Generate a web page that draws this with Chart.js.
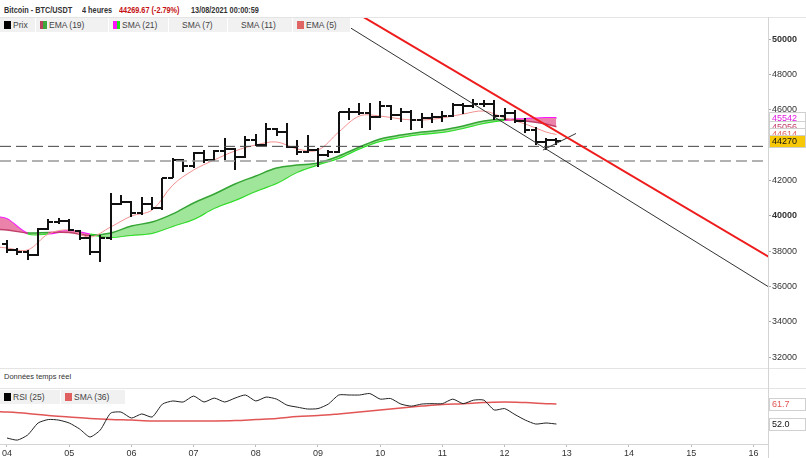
<!DOCTYPE html>
<html>
<head>
<meta charset="utf-8">
<script src="https://cdn.jsdelivr.net/npm/chart.js@4.4.0/dist/chart.umd.min.js"></script>
<style>
body { margin: 0; background: #fff; font-family: "Liberation Sans", Arial, sans-serif; }
#wrap { position: relative; width: 806px; height: 458px; overflow: hidden; background: #fff; }
#head { position: absolute; left: 0; top: 0; width: 806px; height: 17px; font-size: 8.5px; font-weight: bold; color: #333; }
#head span { position: absolute; top: 5px; white-space: nowrap; transform: scaleX(0.86); transform-origin: 0 0; }
.leg { position: absolute; height: 14px; background: #f1f1f1; border-right: 1px solid #fff; font-size: 8.5px; color: #444; line-height: 14px; white-space: nowrap; }
.sw { position: absolute; top: 3px; width: 7px; height: 8px; }
.txt { position: absolute; left: 13px; top: 0; }
#main { position: absolute; left: 0; top: 17px; }
#rsi { position: absolute; left: 0; top: 385px; }
.hl { position: absolute; left: 0; width: 806px; height: 1px; background: #e4e4e4; }
#vl { position: absolute; left: 768px; top: 17px; width: 1px; height: 441px; background: #d4d4d4; }
#rt { position: absolute; left: 4px; top: 372px; font-size: 7.5px; color: #333; }
</style>
</head>
<body>
<div id="wrap">
  <div id="head">
    <span style="left:4px">Bitcoin - BTC/USDT</span>
    <span style="left:82px">4 heures</span>
    <span style="left:119px;color:#c41010">44269.67 (-2.79%)</span>
    <span style="left:191px">13/08/2021 00:00:59</span>
  </div>
  <canvas id="main" width="806" height="351"></canvas>
  <canvas id="rsi" width="806" height="73"></canvas>
  <div class="hl" style="top:17px"></div>
  <div class="hl" style="top:368px"></div>
  <div class="hl" style="top:388px"></div>
  <div id="vl"></div>
  <div id="rt">Données temps réel</div>
  <div class="leg" style="left:0;top:18px;width:35px"><div class="sw" style="left:4px;background:#000"></div><span class="txt">Prix</span></div>
  <div class="leg" style="left:36px;top:18px;width:72px"><div class="sw" style="left:4px;background:linear-gradient(90deg,#b8415e 50%,#3fa63f 50%)"></div><span class="txt">EMA (19)</span></div>
  <div class="leg" style="left:109px;top:18px;width:59px"><div class="sw" style="left:4px;background:linear-gradient(90deg,#ff10ff 50%,#22dd22 50%)"></div><span class="txt">SMA (21)</span></div>
  <div class="leg" style="left:169px;top:18px;width:58px"><span class="txt">SMA (7)</span></div>
  <div class="leg" style="left:228px;top:18px;width:64px"><span class="txt">SMA (11)</span></div>
  <div class="leg" style="left:293px;top:18px;width:57px"><div class="sw" style="left:4px;background:#e06666"></div><span class="txt">EMA (5)</span></div>
  <div class="leg" style="left:0;top:390px;width:60px"><div class="sw" style="left:4px;background:#000"></div><span class="txt">RSI (25)</span></div>
  <div class="leg" style="left:61px;top:390px;width:64px"><div class="sw" style="left:4px;background:#e06060"></div><span class="txt">SMA (36)</span></div>
</div>
<script>
// 4h bars, 04/08 00:00 -> 12/08 20:00
const barOpen = [38410,38070,37950,37780,39260,39650,39710,39140,38750,37950,
  38750,40670,40790,40160,40670,40450,42150,43170,42830,43560,
  43170,43680,43790,43340,44300,44020,44920,44750,43900,43620,
  43730,43450,43620,45890,45890,45830,45600,46230,45720,45890,
  45430,45550,45600,45660,46280,46230,46340,46340,45660,45830,
  45380,44870,44190,44300];
const barHigh = [38630,38180,38070,39310,39820,39880,39820,39200,38920,38920,
  41300,41190,40840,41070,41070,42150,43280,43220,43620,43730,
  43730,44410,43850,44530,44640,45260,44980,45260,44300,44580,
  43850,43730,45890,46110,46400,46400,46510,46280,46110,46000,
  45830,45830,45940,46400,46400,46620,46570,46570,46110,46000,
  45550,45040,44410,44410];
const barLow = [37900,37780,37500,37730,39200,39540,39140,38630,37780,37390,
  38630,40620,39940,40050,40330,40330,42150,42490,42710,43000,
  43110,43170,42600,43280,43960,43960,44530,43850,43450,43560,
  42770,43340,43560,45430,45720,44870,45550,45430,45320,44870,
  44980,45260,45320,45600,45770,46110,46170,45430,45430,45260,
  44700,44020,43730,44020];
const barClose = [38070,37950,37780,39260,39650,39710,39200,38750,37950,38750,
  40670,40790,40160,40670,40450,42150,43170,42830,43560,43170,
  43680,43790,43340,44300,44020,44920,44750,43900,43620,43730,
  43450,43620,45890,45890,45830,45600,46230,45720,45890,45430,
  45550,45600,45660,46280,46230,46340,46340,45660,45830,45380,
  44870,44190,44300,44270];

// indicator samples (bar index)
const indIdx = [-1,0,2,4,6,8,10,12,14,16,18,20,22,24,26,28,30,32,34,36,38,40,42,44,46,48,50,52,53];
const ema5 = [38240,38180,38070,38980,39200,38800,39370,39990,40330,41750,42600,43170,43680,44020,44190,
  43790,43730,44750,45660,45660,45490,45430,45550,45770,45940,45550,45210,44750,44614];
const ema19 = [39230,39200,39030,39060,39060,38890,39030,39430,39650,40110,40730,41240,41810,42260,42710,
  42880,43000,43390,43900,44360,44580,44750,44870,45090,45380,45460,45380,45210,45056];
const sma21 = [39940,39820,39000,39000,39150,38950,38800,38920,39030,39430,39820,40450,40900,41410,41860,
  42490,42910,43280,43820,44240,44470,44640,44750,44980,45260,45430,45490,45550,45542];

const rsi25 = [45.2,44.2,46.7,52.5,54.2,53.9,52.5,49.6,45.7,49.1,
  57.3,57.8,54.9,56.9,55.4,61.7,63.2,62.7,65.6,62.7,
  64.6,62.7,64.6,66.1,63.2,65.1,64.1,61.2,60.2,59.3,
  59.5,61.7,66.1,66.1,66.1,66.8,64.1,64.4,61.7,60.7,
  61.7,61.9,61.9,64.1,61.9,63.6,63.6,58.8,59.5,56.6,
  53.9,52.0,52.5,52.0];
const rsiSma36 = [58.0,57.8,57.1,56.1,55.4,54.7,54.2,53.9,53.5,53.5,53.5,53.5,53.7,54.2,54.7,
  55.6,56.1,56.9,57.8,58.8,59.8,60.7,61.5,61.9,62.4,62.7,62.4,61.9,61.7];

// drawn lines (day of August, price)
const redLineDays = [9.5, 16.5], redLinePrices = [51750, 37150];
const blackLineDays = [9.3, 16.5], blackLinePrices = [51140, 35420];
const miniLineDays = [12.617, 13.148], miniLinePrices = [43730, 44670];
const supportDark = 43940, supportLight = 43110;

const dayTicks = [4,5,6,7,8,9,10,11,12,13,14,15,16];
const priceTicks = [32000,34000,36000,38000,40000,42000,44000,46000,48000,50000];

const xMin = 3.8875, xMax = 16.235;
const FONT = '"Liberation Sans", Arial, sans-serif';
const barDay = i => 4 + i / 6;
const pts = (idx, vals) => idx.map((i, k) => ({x: barDay(i), y: vals[k]}));
const pair = (ds, ps) => ds.map((d, k) => ({x: d, y: ps[k]}));
const noPad = s => { s.paddingTop = 0; s.paddingBottom = 0; s.paddingLeft = 0; s.paddingRight = 0; };

function emaAbove(ctx) {
    var a = ema19[ctx.p0DataIndex] + ema19[ctx.p1DataIndex];
    var b = sma21[ctx.p0DataIndex] + sma21[ctx.p1DataIndex];
    return a >= b;
}

const ohlcPlugin = {
    id: 'ohlc',
    afterDatasetDraw(chart, args) {
        if (args.index !== 5) return;
        const ctx = chart.ctx, x = chart.scales.x, y = chart.scales.y, a = chart.chartArea;
        ctx.save();
        ctx.beginPath();
        ctx.rect(a.left, a.top, a.right - a.left, a.bottom - a.top);
        ctx.clip();
        ctx.strokeStyle = '#111';
        ctx.lineWidth = 2;
        for (let i = 0; i < barOpen.length; i++) {
            const px = Math.round(x.getPixelForValue(barDay(i)));
            const yo = Math.round(y.getPixelForValue(barOpen[i]));
            const yc = Math.round(y.getPixelForValue(barClose[i]));
            ctx.beginPath();
            ctx.moveTo(px, Math.round(y.getPixelForValue(barHigh[i])));
            ctx.lineTo(px, Math.round(y.getPixelForValue(barLow[i])));
            ctx.moveTo(px - 5, yo);
            ctx.lineTo(px, yo);
            ctx.moveTo(px, yc);
            ctx.lineTo(px + 5, yc);
            ctx.stroke();
        }
        ctx.restore();
    }
};

function valueBoxes(list) {
    return {
        id: 'valueBoxes',
        afterDraw(chart) {
            const ctx = chart.ctx, y = chart.scales.y, left = chart.chartArea.right + 1;
            ctx.save();
            ctx.font = '9px ' + FONT;
            ctx.textBaseline = 'middle';
            list.forEach(function(b) {
                const py = Math.round(y.getPixelForValue(b.value));
                ctx.fillStyle = b.bg;
                ctx.fillRect(left, py - 6, 37, 13);
                ctx.strokeStyle = '#d0d0d0';
                ctx.lineWidth = 1;
                ctx.strokeRect(left + 0.5, py - 5.5, 36, 12);
                ctx.fillStyle = b.color;
                ctx.fillText(b.text, left + 3, py + 1);
            });
            ctx.restore();
        }
    };
}

const lastClose = barClose[barClose.length - 1];
new Chart(document.getElementById('main'), {
    type: 'line',
    data: {
        datasets: [
            {data: pair(redLineDays, redLinePrices), borderColor: '#ee1c1c', borderWidth: 2, pointRadius: 0},
            {data: pair(blackLineDays, blackLinePrices), borderColor: '#333', borderWidth: 1, pointRadius: 0},
            {data: pair(miniLineDays, miniLinePrices), borderColor: '#333', borderWidth: 1, pointRadius: 0},
            {data: [{x: xMin, y: supportDark}, {x: xMax, y: supportDark}], borderColor: '#444', borderWidth: 1, borderDash: [11, 5], pointRadius: 0},
            {data: [{x: xMin, y: supportLight}, {x: xMax, y: supportLight}], borderColor: '#999', borderWidth: 1.5, borderDash: [11, 5], pointRadius: 0},
            {data: pts(indIdx, ema5), borderColor: '#f29090', borderWidth: 1, pointRadius: 0, tension: 0.35},
            {data: pts(indIdx, ema19), borderWidth: 1.5, pointRadius: 0, tension: 0.35,
                segment: {borderColor: ctx => emaAbove(ctx) ? '#35a535' : '#c0406a'},
                fill: {target: 7, above: '#9fe69a', below: '#eb82aa'}},
            {data: pts(indIdx, sma21), borderWidth: 2, pointRadius: 0, tension: 0.35,
                segment: {borderColor: ctx => emaAbove(ctx) ? '#1ee81e' : '#ff12ff'}}
        ]
    },
    options: {
        responsive: false,
        animation: false,
        layout: {padding: 0},
        plugins: {legend: {display: false}, tooltip: {enabled: false}},
        scales: {
            x: {type: 'linear', min: xMin, max: xMax, display: false},
            y: {
                position: 'right', min: 31380, max: 51270,
                afterFit: s => { s.width = 38; noPad(s); },
                afterBuildTicks: s => { s.ticks = priceTicks.map(v => ({value: v})); },
                ticks: {
                    color: '#333', padding: 1,
                    font: c => ({family: FONT, size: 9, weight: c.tick && c.tick.value % 10000 === 0 ? 'bold' : 'normal'}),
                    callback: v => String(v)
                },
                grid: {drawOnChartArea: false, tickLength: 3, color: '#aaa'},
                border: {color: '#d4d4d4'}
            }
        }
    },
    plugins: [ohlcPlugin, valueBoxes([
        {value: sma21[sma21.length - 1], text: String(sma21[sma21.length - 1]), color: '#e018e0', bg: '#fff'},
        {value: ema19[ema19.length - 1], text: String(ema19[ema19.length - 1]), color: '#c0406a', bg: '#fff'},
        {value: ema5[ema5.length - 1], text: String(ema5[ema5.length - 1]), color: '#e06060', bg: '#fff'},
        {value: lastClose, text: String(lastClose), color: '#111', bg: '#f7c808'}
    ])]
});

new Chart(document.getElementById('rsi'), {
    type: 'line',
    data: {
        datasets: [
            {data: rsi25.map((v, i) => ({x: barDay(i), y: v})), borderColor: '#222', borderWidth: 1, pointRadius: 0, tension: 0.2},
            {data: pts(indIdx, rsiSma36), borderColor: '#e25555', borderWidth: 1.5, pointRadius: 0, tension: 0.35}
        ]
    },
    options: {
        responsive: false,
        animation: false,
        layout: {padding: {top: 3}},
        plugins: {legend: {display: false}, tooltip: {enabled: false}},
        scales: {
            x: {
                type: 'linear', min: xMin, max: xMax,
                afterFit: s => { s.height = 14; noPad(s); },
                afterBuildTicks: s => { s.ticks = dayTicks.map(v => ({value: v})); },
                ticks: {color: '#333', padding: 1, maxRotation: 0, autoSkip: false,
                    font: {family: FONT, size: 9},
                    callback: v => (v < 10 ? '0' : '') + v},
                grid: {drawOnChartArea: false, tickLength: 3, color: '#bbb'},
                border: {color: '#d4d4d4'}
            },
            y: {
                position: 'right', min: 42.3, max: 69.5,
                afterFit: s => { s.width = 38; noPad(s); },
                ticks: {display: false},
                grid: {display: false},
                border: {color: '#d4d4d4'}
            }
        }
    },
    plugins: [valueBoxes([
        {value: rsiSma36[rsiSma36.length - 1], text: rsiSma36[rsiSma36.length - 1].toFixed(1), color: '#e25555', bg: '#fff'},
        {value: rsi25[rsi25.length - 1], text: rsi25[rsi25.length - 1].toFixed(1), color: '#111', bg: '#fff'}
    ])]
});
</script>
</body>
</html>
